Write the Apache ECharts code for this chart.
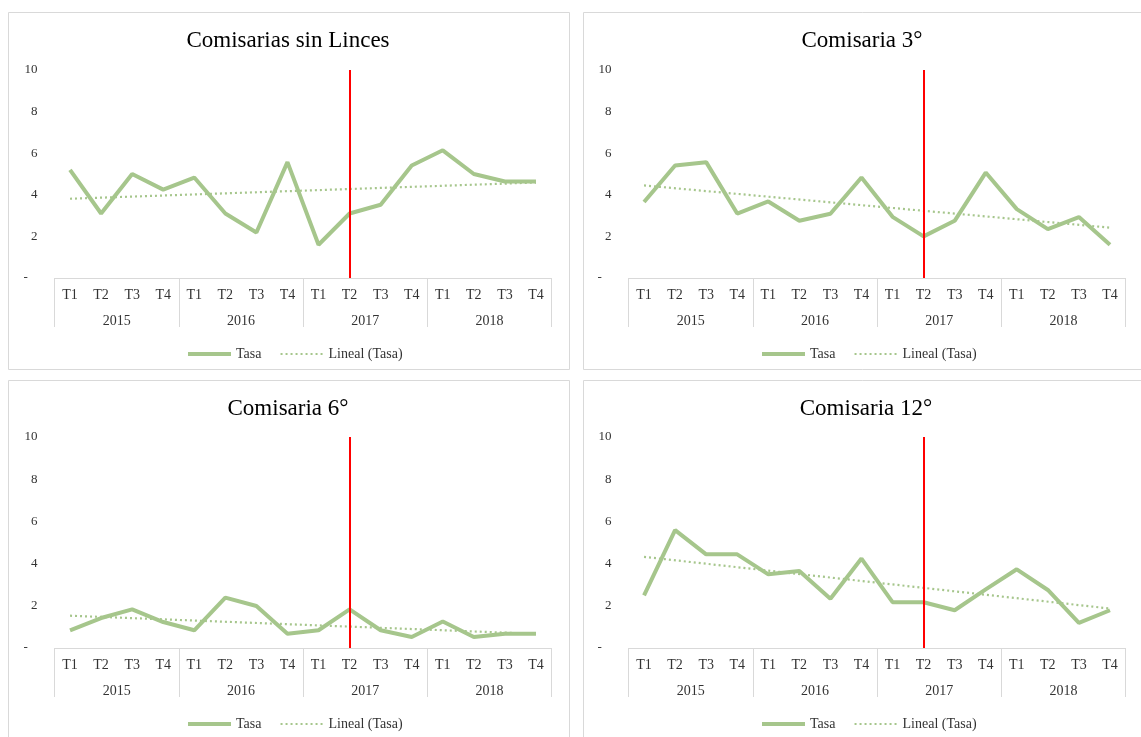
<!DOCTYPE html>
<html>
<head>
<meta charset="utf-8">
<script src="https://cdn.jsdelivr.net/npm/echarts@6/dist/echarts.min.js"></script>
<style>
html,body{margin:0;padding:0;background:#fff;}
#c{width:1141px;height:737px;}
</style>
</head>
<body>
<div id="c"></div>
<script>
var quarters = ['T1','T2','T3','T4','T1','T2','T3','T4','T1','T2','T3','T4','T1','T2','T3','T4'];
var years = ['2015','2016','2017','2018'];
var titles = ['Comisarias sin Linces','Comisaria 3°','Comisaria 6°','Comisaria 12°'];
var tasaSinLinces = [5.2,3.1,5.0,4.25,4.83,3.1,2.19,5.57,1.6,3.1,3.52,5.41,6.14,5.0,4.64,4.64];
var tasa3 = [3.65,5.41,5.57,3.1,3.68,2.75,3.09,4.83,2.94,2.0,2.75,5.07,3.31,2.35,2.93,1.6];
var tasa6 = [0.84,1.42,1.83,1.23,0.84,2.39,1.99,0.68,0.84,1.83,0.84,0.52,1.26,0.52,0.68,0.68];
var tasa12 = [2.49,5.59,4.44,4.44,3.49,3.65,2.33,4.24,2.17,2.17,1.79,2.78,3.73,2.75,1.19,1.79];
var trendStart = [3.81,4.45,1.53,4.32];
var trendEnd = [4.59,2.42,0.67,1.87];
var yTicks = [0,2,4,6,8,10];
var interventionIndex = 9;

var seriesData = [tasaSinLinces, tasa3, tasa6, tasa12];
var GREEN = '#A6C68C';
var FONT = 'Liberation Serif';
var panels = [
  {left:54.5, top:70, width:497, height:208, box:[8.5,12.5,561,357], cx:283, ty:24, lx:181, ly:342},
  {left:628.5, top:70, width:497, height:208, box:[583.5,12.5,562,357], cx:857, ty:24, lx:755, ly:342},
  {left:54.5, top:437, width:497, height:211, box:[8.5,380.5,561,362], cx:283, ty:392, lx:181, ly:712},
  {left:628.5, top:437, width:497, height:211, box:[583.5,380.5,562,362], cx:861, ty:392, lx:755, ly:712}
];

var option = {animation:false, backgroundColor:'#fff', title:[], grid:[], xAxis:[], yAxis:[], series:[], legend:[], graphic:[]};

panels.forEach(function(p, i){
  option.graphic.push({type:'rect', shape:{x:p.box[0], y:p.box[1], width:p.box[2], height:p.box[3]},
    style:{fill:'none', stroke:'#D9D9D9', lineWidth:1}, silent:true, z:-1});
  option.title.push({text:titles[i], left:p.cx, top:p.ty, textAlign:'center',
    textStyle:{fontFamily:FONT, fontSize:23, fontWeight:'normal', color:'#000'}});
  option.grid.push({left:p.left, top:p.top, width:p.width, height:p.height, containLabel:false});
  option.xAxis.push({type:'category', gridIndex:i, data:quarters, position:'bottom', boundaryGap:true,
    axisLine:{show:true, lineStyle:{color:'#D9D9D9', width:1}}, axisTick:{show:false},
    axisLabel:{interval:0, margin:10, fontFamily:FONT, fontSize:14, color:'#333'}, splitLine:{show:false}});
  option.xAxis.push({type:'category', gridIndex:i, data:years, position:'bottom', offset:0, boundaryGap:true,
    axisLine:{show:false}, axisTick:{show:true, length:49, interval:0, lineStyle:{color:'#D9D9D9', width:1}},
    axisLabel:{interval:0, margin:36, fontFamily:FONT, fontSize:14, color:'#333'}, splitLine:{show:false}});
  option.yAxis.push({type:'value', gridIndex:i, min:yTicks[0], max:yTicks[yTicks.length-1], interval:2,
    axisLine:{show:false}, axisTick:{show:false}, splitLine:{show:false},
    axisLabel:{margin:17, fontFamily:FONT, fontSize:13, color:'#333',
      formatter:function(v){ return v === 0 ? '-   ' : String(v); }}});
  option.series.push({name:'Tasa', type:'line', xAxisIndex:i*2, yAxisIndex:i, data:seriesData[i],
    symbol:'none', lineStyle:{color:GREEN, width:4}, itemStyle:{color:GREEN}, z:3,
    markLine:{silent:true, symbol:'none', label:{show:false}, animation:false,
      lineStyle:{color:'#FF0000', width:2, type:'solid'},
      data:[[{coord:[interventionIndex, yTicks[0]]},{coord:[interventionIndex, yTicks[yTicks.length-1]]}]]}});
  option.series.push({name:'Lineal (Tasa)', type:'line', xAxisIndex:i*2, yAxisIndex:i,
    data:[[0, trendStart[i]],[quarters.length-1, trendEnd[i]]],
    symbol:'none', lineStyle:{color:GREEN, width:2.2, type:[2,3]}, itemStyle:{color:GREEN}, z:2});
  option.legend.push({left:p.lx, top:p.ly, itemWidth:43, itemHeight:14, itemGap:18,
    data:[
      {name:'Tasa', itemStyle:{opacity:0}, lineStyle:{color:GREEN, width:4, type:'solid'}},
      {name:'Lineal (Tasa)', itemStyle:{opacity:0}, lineStyle:{color:GREEN, width:2.2, type:[2,3]}}
    ], selectedMode:false,
    textStyle:{fontFamily:FONT, fontSize:14, color:'#333'}});
});

var chart = echarts.init(document.getElementById('c'), null, {renderer:'canvas'});
chart.setOption(option);
</script>
</body>
</html>
